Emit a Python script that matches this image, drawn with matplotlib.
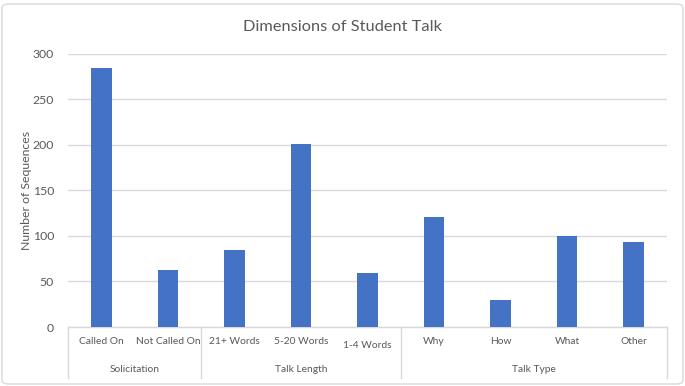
import matplotlib
matplotlib.use("Agg")
import matplotlib.pyplot as plt
from matplotlib.patches import FancyBboxPatch
import matplotlib.transforms as mtrans

categories = ["Called On", "Not Called On", "21+ Words", "5-20 Words", "1-4 Words",
              "Why", "How", "What", "Other"]
values = [284, 62, 85, 201, 59, 121, 30, 100, 93]
groups = ["Solicitation", "Talk Length", "Talk Type"]
group_sizes = [2, 3, 4]
yticks = [0, 50, 100, 150, 200, 250, 300]

plt.rcParams['font.family'] = ['Lato', 'DejaVu Sans']
TXT = '#595959'
GRID = '#D9D9D9'
BAR = '#4472C4'

W, H = 685, 386
fig = plt.figure(figsize=(W / 100, H / 100), dpi=100)
fig.patch.set_facecolor('white')

# outer chart border
border = FancyBboxPatch((2 / W, 2 / H), 1 - 4 / W, 1 - 6 / H,
                        boxstyle="round,pad=0,rounding_size=0.01",
                        transform=fig.transFigure, facecolor='none',
                        edgecolor=GRID, linewidth=1.0)
fig.patches.append(border)

left, right, top, bottom = 68, 667, 53.5, 327
ax = fig.add_axes([left / W, (H - bottom) / H, (right - left) / W, (bottom - top) / H])
ax.set_facecolor('white')

x = list(range(len(categories)))
ax.bar(x, values, width=0.31, color=BAR, zorder=3)
ax.set_xlim(-0.5, len(categories) - 0.5)
ax.set_ylim(0, 300)
ax.set_yticks(yticks)
ax.set_yticklabels([str(v) for v in yticks], color=TXT, fontsize=8.8)
ax.tick_params(axis='y', length=0, pad=10)
ax.grid(axis='y', color=GRID, linewidth=1, zorder=0)
ax.set_xticks([])
for s in ['top', 'right', 'left']:
    ax.spines[s].set_visible(False)
ax.spines['bottom'].set_color(GRID)
ax.spines['bottom'].set_linewidth(1)

ax.set_ylabel("Number of Sequences", color=TXT, fontsize=8.8, va='center')
ax.yaxis.set_label_coords((27 - left) / (right - left), 0.5)
fig.text(0.5, 1 - 27 / H, "Dimensions of Student Talk", ha='center', va='center',
         color=TXT, fontsize=11.8)

trans = mtrans.blended_transform_factory(ax.transData, ax.transAxes)
axh = bottom - top
cat_y = -(342 - bottom) / axh
grp_y = -(370 - bottom) / axh
line_y = -(378 - bottom) / axh

for i, c in enumerate(categories):
    yy = cat_y
    if c == "1-4 Words":
        yy = -(346 - bottom) / axh
    ax.text(i, yy, c, transform=trans, ha='center', va='center',
            color=TXT, fontsize=7.4, clip_on=False)

start = -0.5
bounds = [start]
for g, n in zip(groups, group_sizes):
    end = start + n
    ax.text((start + end) / 2, grp_y, g, transform=trans, ha='center', va='center',
            color=TXT, fontsize=7.4, clip_on=False)
    start = end
    bounds.append(end)
for b in bounds:
    ax.plot([b, b], [0, line_y], transform=trans, color=GRID, linewidth=1, clip_on=False)

fig.savefig("out.png", dpi=100, facecolor='white')
